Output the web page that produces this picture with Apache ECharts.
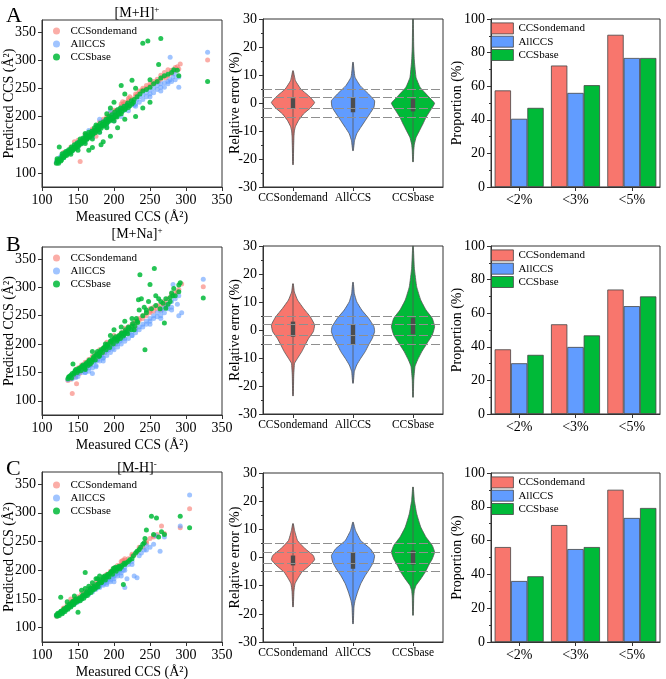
<!DOCTYPE html>
<html><head><meta charset="utf-8">
<script src="https://cdn.jsdelivr.net/npm/echarts@6/dist/echarts.min.js"></script>
<style>html,body{margin:0;padding:0;background:#fff}#c{width:666px;height:679px}</style>
</head><body><div id="c"></div>
<script>
// ---------- DATA ----------
const seriesNames = ['CCSondemand', 'AllCCS', 'CCSbase'];
const rowTitles = ['[M+H]', '[M+Na]', '[M-H]'];
const rowCharges = ['+', '+', '-'];
const panelLetters = ['A', 'B', 'C'];
const barCategories = ['<2%', '<3%', '<5%'];
const scatterTicks = [100, 150, 200, 250, 300, 350];

// scatter [measured, predicted]
const scatterA_ondemand = [[120,118],[122,121],[125,124],[127,128],[130,130],[132,133],[135,136],[137,135],[140,141],[142,143],[145,146],[147,148],[150,152],[152,150],[155,157],[157,160],[160,163],[163,161],[165,168],[168,171],[170,175],[173,172],[175,180],[178,183],[180,185],[183,188],[185,192],[188,190],[190,196],[193,199],[195,201],[198,205],[200,207],[203,210],[205,212],[210,218],[213,222],[215,225],[218,223],[220,228],[225,231],[230,236],[233,240],[238,245],[240,247],[245,250],[250,253],[253,257],[258,260],[262,262],[265,266],[268,270],[272,268],[275,272],[280,276],[283,280],[286,282],[290,284],[292,293],[288,288],[330,300],[153,120],[145,155],[175,165],[200,195],
  [150,158],[160,168],[170,178],[180,190],[190,200],[200,211],[210,222],[220,232],[230,240],[240,250],[250,258],[260,266],[270,278],[280,282],[285,287],[212,226],[222,235],[235,245],[245,255],[255,262],[265,273],[275,283],[185,195],[195,206],[140,146],[130,136]];
const scatterA_allccs = [[120,119],[122,123],[124,126],[126,129],[128,131],[130,134],[132,133],[135,138],[138,140],[140,143],[142,140],[145,148],[148,151],[150,154],[153,156],[155,152],[158,160],[160,164],[163,166],[165,163],[168,170],[170,172],[173,176],[175,178],[178,180],[180,183],[183,186],[185,190],[188,193],[190,188],[193,195],[195,199],[198,202],[200,204],[203,200],[205,208],[208,212],[210,215],[213,210],[215,218],[220,222],[225,225],[228,220],[232,230],[235,235],[240,238],[245,242],[250,247],[255,250],[260,255],[265,258],[270,260],[275,258],[278,265],[282,270],[285,275],[290,252],[278,305],[330,314],[265,245],[250,235],[230,218],[165,175],[180,195],[195,210],
  [150,145],[160,155],[170,163],[180,172],[190,182],[200,192],[210,200],[220,210],[230,222],[240,230],[250,240],[260,248],[270,252],[280,262],[285,265],[290,270],[235,225],[245,235],[255,242],[265,252],[275,262],[140,136],[130,127]];
const scatterA_ccsbase = [[120,117],[121,122],[123,120],[124,146],[125,125],[127,123],[128,130],[130,127],[132,135],[134,131],[136,138],[138,136],[140,142],[142,139],[144,145],[146,143],[148,150],[150,147],[152,155],[154,151],[156,158],[158,155],[160,162],[162,159],[164,165],[166,163],[168,170],[170,167],[172,175],[174,171],[176,178],[178,176],[180,182],[182,179],[184,186],[186,183],[188,190],[190,187],[192,195],[194,192],[196,198],[198,196],[200,200],[202,203],[204,199],[206,206],[208,210],[210,205],[212,214],[215,212],[218,220],[220,216],[225,222],[228,230],[232,235],[236,240],[240,245],[245,248],[250,252],[255,258],[260,262],[265,268],[270,272],[275,275],[280,278],[283,283],[288,282],[290,272],[262,292],[240,330],[247,334],[265,338],[330,262],[225,264],[210,255],[215,240],[230,250],[250,265],[205,180],[195,165],[185,155],[182,150],[170,145],[165,140],[230,200],[215,195],[240,215],[250,225],[200,225],[195,215],[190,205],[175,185],[160,170],
  [121,125],[123,117],[126,121],[128,134],[131,129],[133,138],[135,133],[137,141],[139,137],[141,146],[143,141],[145,150],[147,145],[149,153],[151,149],[153,160],[155,154],[157,162],[159,157],[161,167],[163,161],[165,172],[167,166],[169,174],[171,169],[173,180],[175,174],[177,183],[179,178],[181,188],[183,183],[185,190],[187,186],[189,195],[191,190],[193,200],[195,194],[197,203],[199,198],[201,208],[203,201],[205,212],[207,204],[209,215],[211,209],[214,218],[216,214],[219,224],[222,219],[224,228],[227,225],[200,192],[190,180],[180,172],[160,152],[150,140],[170,160],[140,133]];

const scatterB_ondemand = [[136,136],[138,140],[140,138],[142,113],[143,142],[145,145],[147,143],[148,130],[150,150],[152,148],[155,155],[157,153],[160,160],[162,158],[165,165],[167,163],[170,170],[172,175],[175,177],[177,173],[180,183],[182,180],[185,188],[187,185],[190,193],[192,190],[195,198],[197,202],[200,205],[202,200],[205,210],[208,215],[210,212],[213,218],[215,222],[218,220],[220,225],[225,230],[228,236],[232,238],[235,242],[240,245],[245,250],[250,255],[255,258],[260,262],[265,268],[270,275],[275,280],[280,285],[285,290],[290,296],[294,306],[324,301],[230,228],[250,262],[265,260],[272,268],[190,203],[200,215],
  [150,158],[160,168],[170,178],[180,190],[190,198],[200,208],[210,220],[220,230],[230,240],[240,250],[250,258],[260,268],[270,270],[280,288],[288,292],[215,228],[225,235],[235,245],[245,255],[255,265],[205,213],[195,203],[185,193],[175,183],[165,173],[155,163]];
const scatterB_allccs = [[136,137],[138,141],[140,143],[142,139],[145,147],[147,141],[150,148],[152,152],[155,150],[157,156],[160,155],[162,160],[165,158],[168,163],[170,148],[172,168],[175,170],[178,173],[180,178],[183,180],[185,176],[188,185],[190,188],[193,190],[195,195],[198,192],[200,198],[203,202],[205,200],[208,205],[210,208],[213,212],[215,210],[220,218],[225,222],[230,225],[235,230],[240,235],[245,240],[250,245],[255,250],[260,255],[265,258],[268,262],[272,265],[275,270],[280,275],[285,280],[290,285],[294,255],[290,250],[282,305],[324,314],[265,245],[280,260],[250,235],[225,215],[160,150],[175,160],[185,170],
  [150,143],[160,150],[170,158],[180,170],[190,180],[200,190],[210,200],[220,210],[230,220],[240,230],[250,240],[260,248],[270,255],[280,265],[288,270],[165,152],[175,162],[185,175],[195,185],[205,195],[215,205],[225,215],[235,225],[245,235],[255,245],[265,250],[275,262]];
const scatterB_ccsbase = [[136,139],[137,142],[140,145],[142,148],[143,165],[145,150],[147,155],[150,153],[152,158],[155,160],[157,163],[160,162],[162,167],[165,170],[167,165],[170,172],[172,178],[175,180],[177,187],[180,185],[182,190],[185,192],[187,195],[190,198],[192,200],[195,205],[197,207],[200,210],[202,213],[205,208],[207,215],[210,218],[213,214],[215,220],[218,222],[220,230],[225,232],[228,225],[232,240],[234,278],[238,280],[236,322],[242,265],[245,260],[243,190],[248,275],[250,305],[256,333],[258,285],[262,280],[265,275],[268,272],[272,263],[270,237],[275,270],[278,282],[280,290],[282,285],[283,298],[290,304],[292,308],[324,281],[200,225],[195,215],[188,200],[180,180],[170,187],[160,155],[225,245],[235,260],[215,240],[210,230],
  [138,143],[141,140],[144,147],[146,153],[149,150],[151,156],[154,153],[156,161],[159,158],[161,165],[164,162],[166,172],[169,168],[171,175],[174,172],[176,182],[179,178],[181,187],[184,185],[186,193],[189,190],[191,197],[194,194],[196,203],[199,200],[201,208],[204,205],[206,213],[209,210],[211,220],[214,217],[216,225],[219,218],[221,228],[224,225],[226,236],[229,232],[231,245],[233,238],[240,250],[245,255],[252,262],[258,268],[264,262],[272,280],[278,275],[285,285],[290,292]];

const scatterC_ondemand = [[120,120],[121,123],[123,122],[125,125],[127,127],[129,128],[131,131],[133,133],[135,134],[137,136],[139,139],[141,140],[143,143],[145,145],[147,146],[150,148],[152,151],[155,153],[157,156],[160,158],[162,160],[165,162],[167,165],[170,168],[172,170],[175,172],[177,175],[180,178],[182,180],[185,182],[188,185],[190,188],[193,191],[195,193],[198,197],[200,198],[203,200],[205,203],[208,205],[210,210],[212,217],[215,220],[220,220],[225,225],[228,227],[232,232],[235,236],[240,240],[245,247],[250,255],[255,260],[260,262],[266,277],[270,264],[292,274],[305,307],[140,150],[130,134],
  [135,140],[145,150],[155,159],[165,168],[175,178],[185,188],[195,198],[205,208],[215,217],[225,228],[235,240],[245,250],[255,258],[210,215],[200,204],[190,193],[180,183],[170,173],[160,163],[150,154],[140,145],[130,133]];
const scatterC_allccs = [[120,121],[122,122],[124,124],[126,127],[128,126],[130,130],[132,132],[134,133],[136,135],[138,138],[140,139],[142,141],[144,144],[146,143],[148,147],[150,150],[153,150],[155,152],[158,155],[160,157],[163,160],[165,162],[168,164],[170,166],[173,168],[175,170],[178,172],[180,175],[183,178],[185,176],[188,180],[190,183],[193,185],[195,180],[198,188],[200,190],[203,193],[205,195],[208,198],[210,195],[213,200],[215,205],[218,185],[215,170],[220,210],[225,215],[228,190],[232,187],[238,230],[242,235],[245,243],[250,240],[258,260],[264,233],[270,258],[292,277],[305,331],[190,175],[200,180],[180,170],
  [135,133],[145,141],[155,150],[165,158],[175,167],[185,174],[195,183],[205,190],[215,200],[225,210],[235,225],[245,235],[255,245],[210,190],[200,185],[190,178],[180,172],[170,162],[160,155],[150,145],[140,137],[130,128]];
const scatterC_ccsbase = [[120,122],[121,120],[123,124],[125,126],[126,153],[127,129],[129,127],[131,133],[133,131],[135,137],[137,135],[139,141],[141,139],[143,146],[145,143],[147,150],[150,127],[150,147],[152,152],[155,150],[157,157],[160,196],[160,155],[162,162],[165,160],[167,168],[170,165],[172,172],[175,170],[177,185],[178,176],[180,180],[182,178],[185,185],[187,190],[190,188],[192,193],[195,195],[197,198],[199,203],[200,200],[202,205],[205,203],[207,207],[210,205],[213,175],[215,210],[220,215],[225,220],[230,230],[235,236],[240,245],[243,255],[245,270],[252,294],[259,291],[262,258],[266,267],[270,262],[292,294],[305,274],[155,165],[145,155],[135,145],
  [122,125],[124,121],[126,128],[128,124],[130,131],[132,128],[134,135],[136,132],[138,140],[140,136],[142,144],[144,140],[146,148],[148,144],[151,150],[153,147],[156,155],[158,151],[161,160],[163,156],[166,165],[168,161],[171,170],[173,167],[176,175],[178,171],[181,183],[183,179],[186,188],[188,183],[191,192],[193,188],[196,197],[198,193],[201,203],[203,198],[206,205],[208,202],[211,208],[214,212],[217,213],[222,218],[227,225],[232,233],[237,240],[242,248],[255,262],[160,168],[170,178],[180,190],[175,185],[165,172]];

// violin density profiles (relative error %, relative density)
const violinA_ondemand_y = [-22,-16,-12,-10,-8.4,-6.3,-3.9,-1.8,0.2,2.6,5,8,10,11.5];
const violinA_ondemand_d = [0,0.015,0.03,0.05,0.1,0.24,0.48,0.8,1,0.72,0.35,0.1,0.04,0];
const violinA_allccs_y = [-17,-13.4,-11,-8.7,-6.3,-3.9,-1.5,0.8,3.2,6.2,9.2,12,14.5];
const violinA_allccs_d = [0,0.06,0.16,0.35,0.56,0.77,0.97,1,0.72,0.32,0.08,0.03,0];
const violinA_ccsbase_y = [-21,-17,-14.7,-12.3,-9.9,-7.5,-5.1,-2.7,-0.1,2.6,5.6,9.1,15,20,30];
const violinA_ccsbase_d = [0,0.02,0.05,0.13,0.29,0.45,0.6,0.8,1,0.68,0.32,0.13,0.05,0.02,0];
const violinB_ondemand_y = [-23.5,-16,-11.9,-10.1,-7.7,-5.3,-3,-0.6,1.8,4.7,7.7,10.7,13.6,16.5];
const violinB_ondemand_d = [0,0.02,0.06,0.2,0.4,0.56,0.72,0.94,1,0.8,0.48,0.2,0.05,0];
const violinB_allccs_y = [-19,-14.8,-12.5,-10.1,-7.7,-5.3,-3,-0.6,1.2,4.2,7.1,10.1,13,17];
const violinB_allccs_d = [0,0.05,0.16,0.35,0.56,0.72,0.89,1,0.97,0.72,0.4,0.16,0.05,0];
const violinB_ccsbase_y = [-24,-18,-13,-10.7,-7.7,-4.7,-1.8,1.2,4.2,7.1,10.7,15.4,22,30];
const violinB_ccsbase_d = [0,0.02,0.08,0.2,0.4,0.65,0.89,1,0.89,0.6,0.35,0.16,0.05,0];
const violinC_ondemand_y = [-17.5,-12,-9.3,-7.6,-5.2,-2.8,-0.8,0.7,3.1,6,9.6,12];
const violinC_ondemand_d = [0,0.03,0.08,0.2,0.4,0.77,1,0.94,0.56,0.2,0.06,0];
const violinC_allccs_y = [-23.5,-17.6,-15.3,-12.3,-9.3,-6.4,-4,-1.7,0.7,3.1,6,9.6,12.5];
const violinC_allccs_d = [0,0.03,0.08,0.2,0.35,0.56,0.77,0.94,1,0.8,0.35,0.1,0];
const violinC_ccsbase_y = [-20.5,-14,-11.7,-9.9,-7.6,-5.2,-2.8,-0.5,1.9,4.3,7.2,10.8,15.5,20.2,25];
const violinC_ccsbase_d = [0,0.02,0.05,0.13,0.35,0.56,0.72,0.89,1,0.89,0.6,0.35,0.16,0.05,0];
// interquartile boxes [q1, q3]
const boxA = [[-1.8,1.7],[-3.3,1.8],[-3,1.5]];
const boxB = [[-2.4,3],[-5.1,2],[-1.5,4.4]];
const boxC = [[-2.8,0.7],[-4,1.7],[-2.5,2.5]];
const errorThresholds = [5, 2, -2, -5];

// proportions (%) per threshold
const barA_ondemand = [57.5, 72.3, 90.6];
const barA_allccs = [40.6, 56, 76.8];
const barA_ccsbase = [47.1, 60.6, 76.8];
const barB_ondemand = [38.5, 53.4, 74.1];
const barB_allccs = [30.2, 39.9, 64.2];
const barB_ccsbase = [35.2, 46.8, 70];
const barC_ondemand = [56.2, 69.2, 90.1];
const barC_allccs = [36.1, 55, 73.4];
const barC_ccsbase = [38.9, 56.2, 79.3];

// ---------- STYLE / LAYOUT ----------
const FONT = "'Liberation Serif','Times New Roman',serif";
const COLORS = ['#F8766D', '#619CFF', '#00BA38'];
const SC_OPACITY = [0.6, 0.6, 0.85];
const AX = '#333';
const rowTop = [[20, 19, 19], [247, 246, 246], [472, 473, 473]];
const rowH = [[167, 168, 168], [168, 168, 168], [170, 169, 169]];
const colLeft = [42, 263, 491];
const colW = [180, 180, 169];

const scatterData = [
  [scatterA_ondemand, scatterA_allccs, scatterA_ccsbase],
  [scatterB_ondemand, scatterB_allccs, scatterB_ccsbase],
  [scatterC_ondemand, scatterC_allccs, scatterC_ccsbase]
];
const violinProfiles = [
  [[violinA_ondemand_y, violinA_ondemand_d], [violinA_allccs_y, violinA_allccs_d], [violinA_ccsbase_y, violinA_ccsbase_d]],
  [[violinB_ondemand_y, violinB_ondemand_d], [violinB_allccs_y, violinB_allccs_d], [violinB_ccsbase_y, violinB_ccsbase_d]],
  [[violinC_ondemand_y, violinC_ondemand_d], [violinC_allccs_y, violinC_allccs_d], [violinC_ccsbase_y, violinC_ccsbase_d]]
];
const boxes = [boxA, boxB, boxC];
const barData = [
  [barA_ondemand, barA_allccs, barA_ccsbase],
  [barB_ondemand, barB_allccs, barB_ccsbase],
  [barC_ondemand, barC_allccs, barC_ccsbase]
];

const grid = [], xAxis = [], yAxis = [], series = [], legend = [], title = [];

function tick(extra) {
  return Object.assign({ show: true, inside: false, length: 4, lineStyle: { color: AX } }, extra || {});
}
function label(extra) {
  return Object.assign({ color: '#000', fontFamily: FONT, fontSize: 14, margin: 6 }, extra || {});
}
function axisCommon() {
  return {
    axisLine: { show: true, onZero: false, lineStyle: { color: AX, width: 1 } },
    axisTick: tick(),
    splitLine: { show: false },
    axisLabel: label(),
    nameTextStyle: { color: '#000', fontFamily: FONT, fontSize: 14 },
    nameLocation: 'middle',
    nameMoveOverlap: false
  };
}
const minor = { show: true, splitNumber: 2, length: 2, lineStyle: { color: AX } };

for (let r = 0; r < 3; r++) {
  for (let c = 0; c < 3; c++) {
    grid.push({ left: colLeft[c], top: rowTop[r][c], width: colW[c], height: rowH[r][c],
      show: true, borderColor: AX, borderWidth: 1, backgroundColor: 'transparent',
      containLabel: false, outerBoundsMode: 'none' });
  }
  const g0 = r * 3;
  // ----- scatter -----
  xAxis.push(Object.assign(axisCommon(), { gridIndex: g0, type: 'value', min: 100, max: 350, interval: 50,
    name: 'Measured CCS (Å²)', nameGap: 23 }));
  yAxis.push(Object.assign(axisCommon(), { gridIndex: g0, type: 'value', min: 75, max: 371,
    name: 'Predicted CCS (Å²)', nameGap: 26,
    axisLabel: label({ customValues: scatterTicks }),
    axisTick: tick({ customValues: scatterTicks }) }));
  for (let s = 0; s < 3; s++) {
    series.push({ type: 'scatter', name: seriesNames[s], xAxisIndex: g0, yAxisIndex: g0,
      data: scatterData[r][s], symbolSize: 5, z: 2 + s,
      itemStyle: { color: COLORS[s], opacity: SC_OPACITY[s] } });
  }
  legend.push({ left: 53, top: rowTop[r][0] + (r === 2 ? 7.5 : 5.5), padding: 0, orient: 'vertical', itemGap: 2,
    itemWidth: 18, itemHeight: 7, selectedMode: false,
    textStyle: { fontFamily: FONT, fontSize: 11, color: '#000' },
    data: seriesNames.map((n, s) => ({ name: n, icon: 'circle', itemStyle: { color: COLORS[s], opacity: SC_OPACITY[s], borderWidth: 0 } })) });

  // ----- violin -----
  const g1 = g0 + 1;
  xAxis.push(Object.assign(axisCommon(), { gridIndex: g1, type: 'category', data: seriesNames,
    axisTick: tick({ alignWithLabel: true }),
    axisLabel: label({ fontSize: 11.5, margin: 5, interval: 0 }) }));
  yAxis.push(Object.assign(axisCommon(), { gridIndex: g1, type: 'value', min: -30, max: 30, interval: 10,
    name: 'Relative error (%)', nameGap: 21, minorTick: minor }));
  const profs = violinProfiles[r];
  const bx = boxes[r];
  series.push({ type: 'line', xAxisIndex: g1, yAxisIndex: g1, data: [], silent: true, z: 1,
    markLine: { symbol: 'none', silent: true, label: { show: false },
      lineStyle: { color: '#8f8f8f', type: [9, 3], width: 1 },
      data: errorThresholds.map(v => ({ yAxis: v })) } });
  series.push({ type: 'custom', xAxisIndex: g1, yAxisIndex: g1, z: 3, silent: true,
    data: seriesNames.map((n, i) => [i, bx[i][0], bx[i][1]]),
    renderItem: function (params, api) {
      const i = params.dataIndex;
      const cat = api.value(0);
      const ys = profs[i][0], ds = profs[i][1];
      const cx = api.coord([cat, 0])[0];
      const half = api.size([1, 0])[0] * 0.355;
      const left = [], right = [];
      for (let k = 0; k < ys.length; k++) {
        const py = api.coord([cat, ys[k]])[1];
        left.push([cx - ds[k] * half - 0.3, py]);
        right.push([cx + ds[k] * half + 0.3, py]);
      }
      const pts = left.concat(right.reverse());
      const yMin = api.coord([cat, ys[0]])[1];
      const yMax = api.coord([cat, ys[ys.length - 1]])[1];
      const q1 = api.coord([cat, api.value(1)])[1];
      const q3 = api.coord([cat, api.value(2)])[1];
      return { type: 'group', children: [
        { type: 'polygon', shape: { points: pts, smooth: 0.12 },
          style: { fill: COLORS[i], stroke: '#555', lineWidth: 0.8 } },
        { type: 'line', shape: { x1: cx, y1: yMin, x2: cx, y2: yMax },
          style: { stroke: '#555', lineWidth: 0.8 } },
        { type: 'rect', shape: { x: cx - 2.2, y: q3, width: 4.4, height: q1 - q3 },
          style: { fill: '#4d4d4d' } }
      ] };
    } });

  // ----- bars -----
  const g2 = g0 + 2;
  xAxis.push(Object.assign(axisCommon(), { gridIndex: g2, type: 'category', data: barCategories,
    axisTick: tick({ alignWithLabel: true }),
    axisLabel: label({ margin: 6 }) }));
  yAxis.push(Object.assign(axisCommon(), { gridIndex: g2, type: 'value', min: 0, max: 100, interval: 20,
    name: 'Proportion (%)', nameGap: 27, minorTick: minor }));
  for (let s = 0; s < 3; s++) {
    series.push({ type: 'bar', name: seriesNames[s], xAxisIndex: g2, yAxisIndex: g2,
      data: barData[r][s], barGap: '0%', barCategoryGap: '13%',
      itemStyle: { color: COLORS[s], borderColor: '#444', borderWidth: 0.8 } });
  }
  legend.push({ left: 491, top: rowTop[r][2] + 3.5, padding: 0, orient: 'vertical', itemGap: 1.5,
    itemWidth: 22, itemHeight: 11, selectedMode: false,
    textStyle: { fontFamily: FONT, fontSize: 11, color: '#000' },
    data: seriesNames.map((n, s) => ({ name: n, icon: 'rect', itemStyle: { color: COLORS[s], borderColor: '#444', borderWidth: 0.8, opacity: 1 } })) });

  // ----- titles -----
  title.push({ text: '{a|' + rowTitles[r] + '}{b|' + rowCharges[r] + '}',
    left: 132, top: rowTop[r][0] - (r === 0 ? 20 : (r === 1 ? 26 : 17)), textAlign: 'center',
    textStyle: { fontWeight: 'normal', rich: {
      a: { fontFamily: FONT, fontSize: 14, fontWeight: 'normal', color: '#000', lineHeight: 16 },
      b: { fontFamily: FONT, fontSize: 9, fontWeight: 'normal', color: '#000', verticalAlign: 'top', lineHeight: 16 } } } });
  title.push({ text: panelLetters[r], left: 1, top: [0, 229, 453][r],
    textStyle: { fontFamily: FONT, fontSize: 22, fontWeight: 'normal', color: '#000' } });
}

const chart = echarts.init(document.getElementById('c'), null, { renderer: 'canvas' });
chart.setOption({ animation: false, backgroundColor: '#fff', grid, xAxis, yAxis, series, legend, title, tooltip: { show: false } });
</script></body></html>
